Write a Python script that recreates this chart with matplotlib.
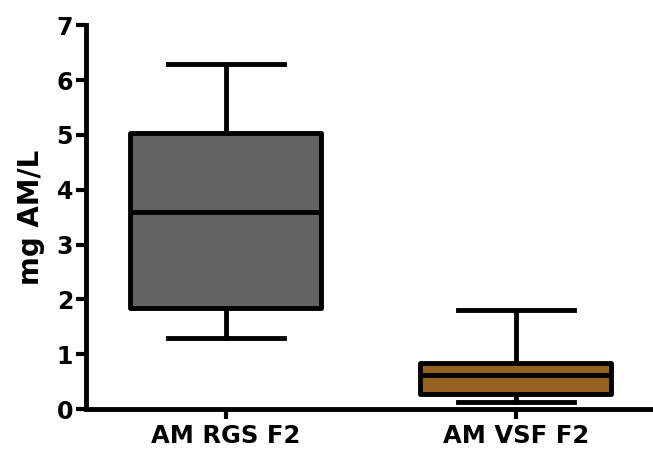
import numpy as np
import matplotlib
matplotlib.use('Agg')
import matplotlib.pyplot as plt

# box statistics (mg AM/L)
groups = ['AM RGS F2', 'AM VSF F2']
whislo = [1.30, 0.12]
q1 = [1.85, 0.27]
med = [3.60, 0.63]
q3 = [5.04, 0.84]
whishi = [6.30, 1.80]
fills = ['#636363', '#956120']

plt.rcParams['font.family'] = ['DejaVu Sans']
plt.rcParams['font.weight'] = 'bold'

fig = plt.figure(figsize=(6.53, 4.5), dpi=100)
ax = fig.add_axes([0.131, 0.091, 0.869, 0.853])

stats = []
for i in range(len(groups)):
    stats.append({'label': groups[i], 'whislo': whislo[i], 'q1': q1[i],
                  'med': med[i], 'q3': q3[i], 'whishi': whishi[i], 'fliers': []})

lw = 3.5
bp = ax.bxp(stats, positions=[1, 2], widths=0.66, patch_artist=True,
            showfliers=False,
            boxprops=dict(linewidth=lw, edgecolor='black'),
            medianprops=dict(linewidth=lw, color='black'),
            whiskerprops=dict(linewidth=lw, color='black'),
            capprops=dict(linewidth=lw, color='black'),
            capwidths=0.4)
for patch, c in zip(bp['boxes'], fills):
    patch.set_facecolor(c)
    patch.set_joinstyle('round')

ax.set_xlim(0.516, 2.474)
ax.set_ylim(0, 7)
ax.set_yticks(range(0, 8))
ax.spines['top'].set_visible(False)
ax.spines['right'].set_visible(False)
ax.spines['left'].set_linewidth(3.5)
ax.spines['bottom'].set_linewidth(3.5)
ax.tick_params(axis='both', width=3, length=7)
ax.tick_params(axis='y', labelsize=17, pad=2)
ax.tick_params(axis='x', labelsize=17.5, pad=4)
ax.set_ylabel('mg AM/L', fontsize=20, fontweight='bold', labelpad=8)
for lab in ax.get_xticklabels() + ax.get_yticklabels():
    lab.set_fontweight('bold')

fig.savefig('out.png', dpi=100)
